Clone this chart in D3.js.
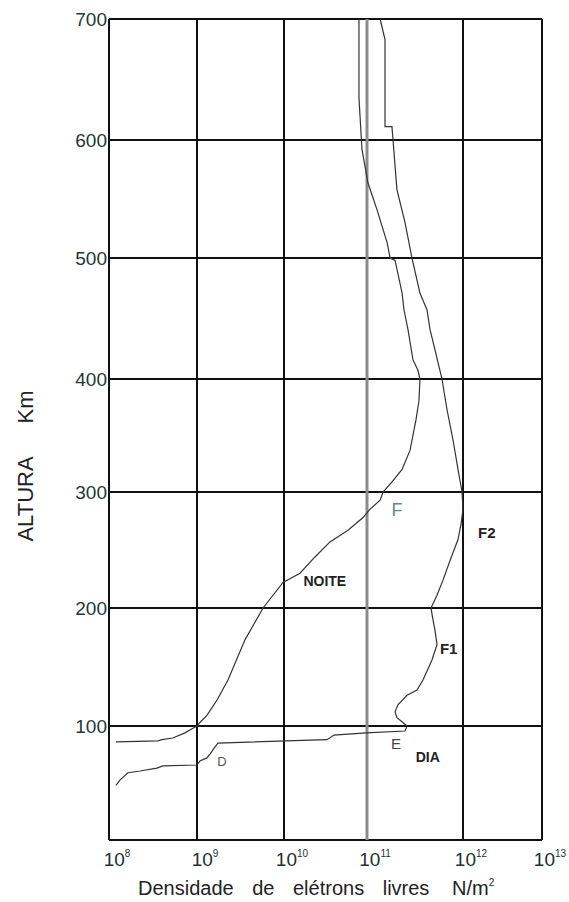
<!DOCTYPE html>
<html>
<head>
<meta charset="utf-8">
<script src="https://cdn.jsdelivr.net/npm/d3@7"></script>
<style>
  body { margin: 0; background: #fff; }
  text { font-family: "Liberation Sans", Arial, sans-serif; }
</style>
</head>
<body>
<div id="chart"></div>
<script>
var svgWidth = 569;
var svgHeight = 902;

// tick values
var densityTicks = [1e8, 1e9, 1e10, 1e11, 1e12, 1e13];
var densityExp = ["8", "9", "10", "11", "12", "13"];
var altitudeTicks = [100, 200, 300, 400, 500, 600, 700];

// night profile (NOITE): altitude km, density N/m2
var nightAlt = [700, 635, 592, 577, 564, 541, 513, 500, 498, 471, 457, 441, 416, 407, 400,
  381, 364, 337, 320, 309, 300, 293, 285, 278, 267, 257, 244, 230, 222, 200,
  173, 139, 122, 109, 103, 100, 98, 94, 89.5, 88, 87, 86];
var nightDens = [8.0e10, 8.0e10, 8.7e10, 9.5e10, 1.02e11, 1.27e11, 1.62e11, 1.74e11, 1.96e11, 2.32e11, 2.43e11, 2.67e11, 3.01e11, 3.40e11, 3.56e11,
  3.48e11, 3.24e11, 2.81e11, 2.32e11, 1.82e11, 1.47e11, 1.37e11, 1.07e11, 8.96e10, 5.9e10, 3.58e10, 2.36e10, 1.56e10, 9.75e9, 5.74e9,
  3.56e9, 2.27e9, 1.70e9, 1.30e9, 1.08e9, 1.0e9, 9.0e8, 7.3e8, 5.3e8, 4.0e8, 3.6e8, 1.2e8];

// day profile (DIA)
var dayAlt = [700, 683, 611, 611, 558, 530, 500, 471, 465, 457, 441, 424, 400, 373, 346,
  320, 300, 285, 272, 259, 241, 224, 211, 200, 190, 181, 169, 156, 139, 130.5,
  126, 118, 112, 107, 103, 100, 95.6, 94, 92, 88, 85, 81.6, 75.4, 72, 69.3,
  65.8, 65, 63, 60.5, 59, 52.6, 48];
var dayDens = [1.37e11, 1.54e11, 1.54e11, 1.82e11, 2.05e11, 2.49e11, 2.94e11, 3.56e11, 3.83e11, 4.22e11, 4.53e11, 5.11e11, 6.04e11, 6.81e11, 7.87e11,
  8.87e11, 9.77e11, 1.0e12, 9.53e11, 8.87e11, 7.33e11, 6.19e11, 5.36e11, 4.64e11, 4.87e11, 5.11e11, 5.36e11, 4.75e11, 3.83e11, 3.32e11,
  2.61e11, 2.10e11, 1.96e11, 2.05e11, 2.37e11, 2.61e11, 2.49e11, 9.7e10, 4.0e10, 3.3e10, 1.74e9, 1.61e9, 1.41e9, 1.30e9, 1.08e9,
  1.0e9, 4.1e8, 3.5e8, 2.25e8, 1.64e8, 1.33e8, 1.2e8];

var svg = d3.select("#chart")
  .append("svg")
  .attr("width", svgWidth)
  .attr("height", svgHeight);

svg.append("rect").attr("width", svgWidth).attr("height", svgHeight).attr("fill", "#fff");

// the printed grid is hand drawn, decades are not quite equal
var x = d3.scaleLog()
  .domain(densityTicks)
  .range([109, 197, 284, 367, 463, 542]);

var y = d3.scaleLinear()
  .domain([0, 100, 200, 300, 400, 500, 600, 700])
  .range([840, 726, 608, 492, 379, 258, 140, 19]);

var grid = svg.append("g");

// horizontal grid
grid.selectAll(".hline")
  .data(altitudeTicks)
  .enter()
  .append("line")
  .attr("x1", x(1e8))
  .attr("x2", x(1e13))
  .attr("y1", d => y(d))
  .attr("y2", d => y(d))
  .attr("stroke", "#111")
  .attr("stroke-width", 2);

// bottom border
grid.append("line")
  .attr("x1", x(1e8)).attr("x2", x(1e13))
  .attr("y1", y(0)).attr("y2", y(0))
  .attr("stroke", "#111")
  .attr("stroke-width", 2);

// vertical grid, 10^11 is drawn grey and heavier
grid.selectAll(".vline")
  .data(densityTicks)
  .enter()
  .append("line")
  .attr("x1", d => x(d))
  .attr("x2", d => x(d))
  .attr("y1", y(0))
  .attr("y2", y(700))
  .attr("stroke", d => d === 1e11 ? "#8c8c8c" : "#111")
  .attr("stroke-width", d => d === 1e11 ? 3 : 2);

// altitude labels
svg.selectAll(".ylab")
  .data(altitudeTicks)
  .enter()
  .append("text")
  .attr("x", x(1e8) - 2)
  .attr("y", d => y(d))
  .attr("dy", "0.36em")
  .attr("text-anchor", "end")
  .attr("font-size", 19)
  .attr("fill", "#1f3838")
  .text(d => d);

// density labels 10^n
var xlab = svg.selectAll(".xlab")
  .data(densityTicks)
  .enter()
  .append("text")
  .attr("x", d => x(d) + 8)
  .attr("y", 866)
  .attr("text-anchor", "middle")
  .attr("font-size", 19)
  .attr("fill", "#1f3030");
xlab.append("tspan").text("10");
xlab.append("tspan")
  .attr("font-size", 10)
  .attr("dy", -9)
  .text((d, i) => densityExp[i]);

// axis titles
svg.append("text")
  .attr("x", 138)
  .attr("y", 895)
  .attr("font-size", 20)
  .attr("word-spacing", 13)
  .attr("fill", "#222")
  .text("Densidade de elétrons livres");

var unit = svg.append("text")
  .attr("x", 452)
  .attr("y", 895)
  .attr("font-size", 20)
  .attr("fill", "#222");
unit.append("tspan").text("N/m");
unit.append("tspan").attr("font-size", 10).attr("dy", -9).text("2");

svg.append("text")
  .attr("transform", "translate(33,499) rotate(-90)")
  .attr("text-anchor", "middle")
  .attr("font-size", 22)
  .attr("fill", "#222")
  .text("ALTURA");

svg.append("text")
  .attr("transform", "translate(33,407) rotate(-90)")
  .attr("text-anchor", "middle")
  .attr("font-size", 22)
  .attr("fill", "#222")
  .text("Km");

// profiles
var line = d3.line()
  .x(d => x(d[1]))
  .y(d => y(d[0]));

var night = nightAlt.map((a, i) => [a, nightDens[i]]);
var day = dayAlt.map((a, i) => [a, dayDens[i]]);

svg.append("path")
  .datum(night)
  .attr("d", line)
  .attr("fill", "none")
  .attr("stroke", "#333")
  .attr("stroke-width", 1.2);

svg.append("path")
  .datum(day)
  .attr("d", line)
  .attr("fill", "none")
  .attr("stroke", "#333")
  .attr("stroke-width", 1.2);

// layer labels
function label(txt, dens, alt, size, weight, color) {
  svg.append("text")
    .attr("x", x(dens))
    .attr("y", y(alt))
    .attr("dy", "0.36em")
    .attr("text-anchor", "middle")
    .attr("font-size", size)
    .attr("font-weight", weight)
    .attr("fill", color)
    .text(txt);
}

label("F", 2.05e11, 285, 18, "normal", "#648a80");
label("F2", 2.0e12, 265, 15, "bold", "#222");
label("NOITE", 3.1e10, 223, 14, "bold", "#222");
label("F1", 7.1e11, 166, 15, "bold", "#222");
label("E", 2.0e11, 85, 15, "normal", "#444");
label("DIA", 4.3e11, 73, 14, "bold", "#222");
label("D", 1.94e9, 69, 13, "normal", "#555");
</script>
</body>
</html>
